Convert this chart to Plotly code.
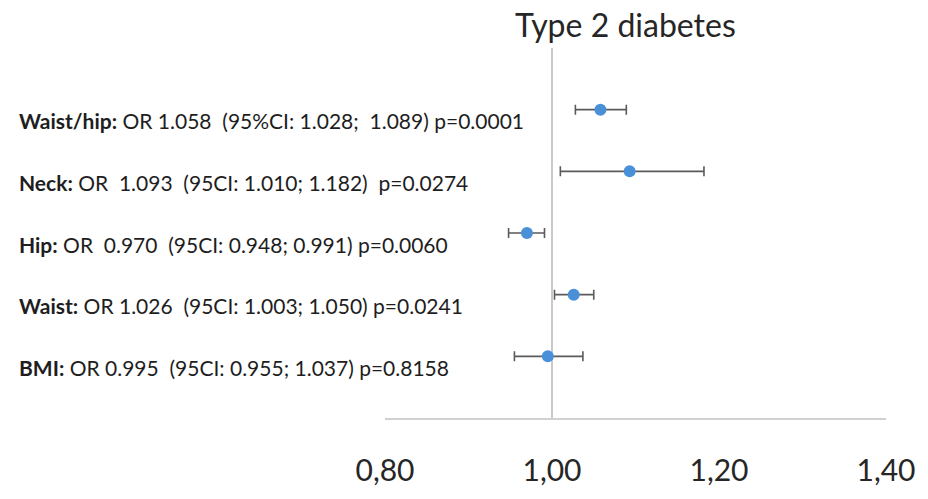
import plotly.graph_objects as go

# Data
labels = ["Waist/hip:", "Neck:", "Hip:", "Waist:", "BMI:"]
details = [
    "OR 1.058  (95%CI: 1.028;  1.089) p=0.0001",
    "OR  1.093  (95CI: 1.010; 1.182)  p=0.0274",
    "OR  0.970  (95CI: 0.948; 0.991) p=0.0060",
    "OR 1.026  (95CI: 1.003; 1.050) p=0.0241",
    "OR 0.995  (95CI: 0.955; 1.037) p=0.8158",
]
odds_ratio = [1.058, 1.093, 0.970, 1.026, 0.995]
ci_low = [1.028, 1.010, 0.948, 1.003, 0.955]
ci_high = [1.089, 1.182, 0.991, 1.050, 1.037]
row_pos = [5, 4, 3, 2, 1]
tick_values = [0.80, 1.00, 1.20, 1.40]
tick_labels = ["0,80", "1,00", "1,20", "1,40"]

FONT = "Lato"

err_plus = [h - o for h, o in zip(ci_high, odds_ratio)]
err_minus = [o - l for o, l in zip(odds_ratio, ci_low)]

fig = go.Figure()
fig.add_trace(go.Scatter(
    x=odds_ratio, y=row_pos, mode="markers",
    marker=dict(color="#4a90d9", size=12),
    error_x=dict(type="data", symmetric=False, array=err_plus, arrayminus=err_minus,
                 color="#5a5a5a", thickness=1.6, width=5),
    showlegend=False, hoverinfo="skip",
))

fig.add_shape(type="line", x0=1.0, x1=1.0, y0=0, y1=6, xref="x", yref="y",
              line=dict(color="#c9c9c9", width=2), layer="below")

for lab, det, y in zip(labels, details, row_pos):
    txt = "<b>" + lab + "</b> " + det.replace("  ", "\u00a0 ")
    fig.add_annotation(x=-0.735, xref="paper", y=y, yref="y", text=txt,
                       showarrow=False, xanchor="left", yanchor="middle", yshift=-11,
                       font=dict(family=FONT, size=21, color="#1e1e1e"))

fig.add_annotation(x=0.48, xref="paper", y=1.063, yref="paper", text="Type 2 diabetes",
                   showarrow=False, xanchor="center", yanchor="middle",
                   font=dict(family=FONT, size=32, color="#262626"))

fig.update_xaxes(range=[0.8, 1.4], tickvals=tick_values, ticktext=tick_labels,
                 showgrid=False, zeroline=False, showline=True, linecolor="#d0d0d0", linewidth=2,
                 ticks="", ticklabelstandoff=25,
                 tickfont=dict(family=FONT, size=30, color="#262626"))
fig.update_yaxes(range=[0, 6], showgrid=False, zeroline=False, showticklabels=False, showline=False)

fig.update_layout(width=928, height=499, margin=dict(l=385, r=37, t=48, b=57),
                  plot_bgcolor="white", paper_bgcolor="white")

fig.write_html("out.html")
